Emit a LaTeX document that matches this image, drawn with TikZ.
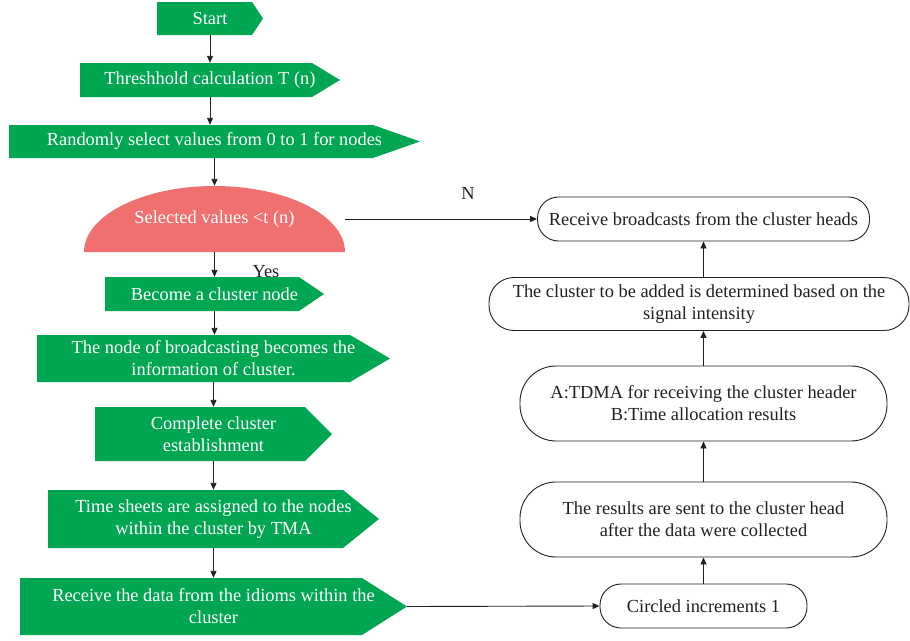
\documentclass[tikz,border=0pt]{standalone}
\usepackage{fontspec}
\setmainfont{Liberation Serif}
\usetikzlibrary{arrows.meta}

\definecolor{flowgreen}{RGB}{0,166,81}
\definecolor{decred}{RGB}{240,112,112}
\definecolor{linegray}{RGB}{35,31,32}

\tikzset{
  gbox/.style={minimum height=#1, inner sep=0pt, text=white, align=center},
  gtip/.style={path picture={\fill[flowgreen] (path picture bounding box.north west)
      -- ([xshift=-#1]path picture bounding box.north east) -- (path picture bounding box.east)
      -- ([xshift=-#1]path picture bounding box.south east) -- (path picture bounding box.south west) -- cycle;}},
  rbox/.style={draw=linegray, line width=0.9pt, rounded corners=#1, inner sep=0pt, align=center, text=linegray},
  arr/.style={line width=0.9pt, draw=linegray, -{Triangle[length=7pt,width=6pt]}}
}

\begin{document}
\begin{tikzpicture}[x=1pt,y=-1pt,font=\fontsize{18.4}{22}\selectfont]
    \useasboundingbox (0,0) rectangle (910,640);
    % left column
    \node[gbox=33pt, minimum width=106pt, gtip=11] (start) at (210,18.5) {Start};
    \node[gbox=34pt, minimum width=260pt, gtip=28] (thr) at (210,80) {Threshhold calculation T (n)};
    \node[gbox=33pt, minimum width=411pt, gtip=47] (rand) at (214.5,141.5) {Randomly select values from 0 to 1 for nodes};
    \node[minimum width=261pt, minimum height=66pt, inner sep=0pt, text=white,
      path picture={\fill[decred] (path picture bounding box.south west)
        arc[start angle=180, end angle=0, x radius=130.5pt, y radius=66pt] -- cycle;}] (dec) at (214.5,219) {Selected values <t (n)};
    \node[gbox=34pt, minimum width=219pt, gtip=25] (become) at (214.5,294) {Become a cluster node};
    \node[gbox=47pt, minimum width=353pt, gtip=40] (bcast) at (213.5,358.5) {The node of broadcasting becomes the\\information of cluster.};
    \node[gbox=54pt, minimum width=237pt, gtip=27] (complete) at (213.5,434) {Complete cluster\\establishment};
    \node[gbox=58pt, minimum width=331pt, gtip=36] (tsheet) at (213.5,519) {Time sheets are assigned to the nodes\\within the cluster by TMA};
    \node[gbox=57pt, minimum width=387pt, gtip=45] (recv) at (213.5,606.5) {Receive the data from the idioms within the\\cluster};
    \node[text=linegray] (yes) at (266,272) {Yes};
    \node[text=linegray] (nlab) at (468,193) {N};
    % right column
    \node[rbox=21pt, minimum width=332pt, minimum height=44pt] (heads) at (703.5,219) {Receive broadcasts from the cluster heads};
    \node[rbox=25pt, minimum width=420pt, minimum height=53pt] (signal) at (699,304) {The cluster to be added is determined based on the\\signal intensity};
    \node[rbox=36pt, minimum width=367pt, minimum height=75pt] (tdma) at (703.5,403.5) {A:TDMA for receiving the cluster header\\B:Time allocation results};
    \node[rbox=36pt, minimum width=367pt, minimum height=75pt] (results) at (703.5,519.5) {The results are sent to the cluster head\\after the data were collected};
    \node[rbox=21pt, minimum width=207pt, minimum height=44pt] (circled) at (703.5,606) {Circled increments 1};
    % connectors
    \foreach \a/\b in {start/thr, thr/rand, rand/dec, dec/become, become/bcast, bcast/complete, complete/tsheet, tsheet/recv}
      \draw[arr] (\a.south) -- (\a.south |- \b.north);
    \draw[arr] (dec.east) -- (heads.west);
    \draw[arr] (recv.east) -- (circled.west);
    \foreach \a/\b in {circled/results, results/tdma, tdma/signal, signal/heads}
      \draw[arr] (circled.north |- \a.north) -- (circled.north |- \b.south);
\end{tikzpicture}
\end{document}
